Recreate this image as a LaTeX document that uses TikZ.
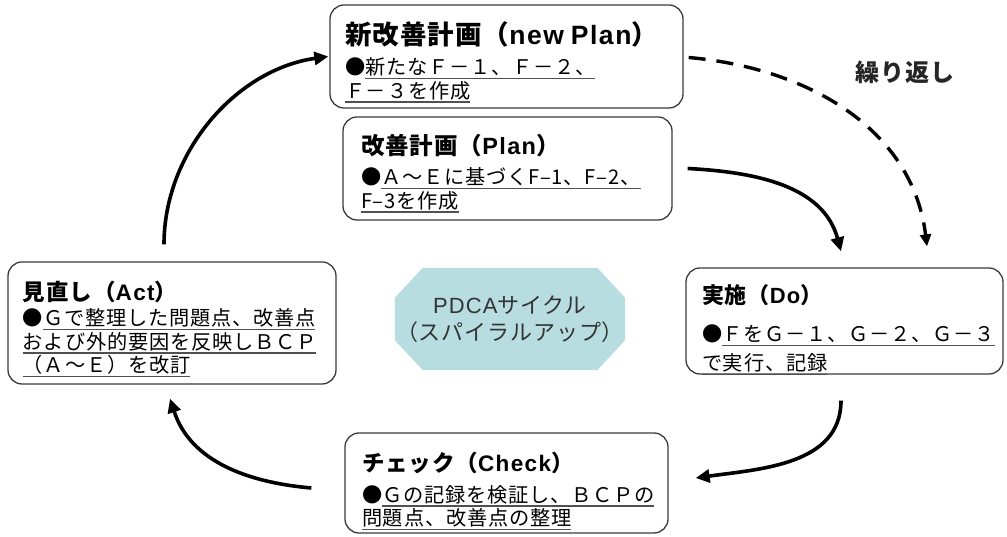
\documentclass[tikz,border=0pt]{standalone}
\usepackage{fontspec}
\setmainfont{Noto Sans CJK JP}[LetterSpace=4]
\newfontfamily\arl{Liberation Sans}
\usetikzlibrary{arrows.meta}
\pgfdeclarelayer{background}
\pgfsetlayers{background,main}
\definecolor{octa}{HTML}{B8DDE1}
\definecolor{boxline}{HTML}{3A3A3A}
\definecolor{ulgray}{HTML}{505050}
\newsavebox\myulbox
\newcommand\ulx[1]{\leavevmode\sbox\myulbox{#1}\rlap{\smash{\color{ulgray}\rule[-4.5pt]{\wd\myulbox}{1.3pt}}}\usebox\myulbox}
\newcommand\ttl[3][33]{{\fontsize{#2}{#2}\selectfont\bfseries\rule{0pt}{#1pt}#3}}
\newcommand\lat[1]{{\arl\bfseries\addfontfeature{LetterSpace=6}#1}}
\tikzset{
  pbox/.style={draw=boxline, line width=1.3pt, rounded corners=14pt, align=left,
    inner ysep=0pt, font=\fontsize{20.2}{23.5}\selectfont, text=black},
  arr/.style={line width=3.6pt, -{Triangle[length=14pt,width=13pt]}},
  dsh/.style={line width=3.4pt, dash pattern=on 17pt off 11pt, -{Triangle[length=12pt,width=11pt]}}
}
\begin{document}
\begin{tikzpicture}[x=1pt,y=1pt]
\useasboundingbox (0,0) rectangle (1007,537);

\node[pbox, minimum width=353pt, minimum height=103pt, inner xsep=15pt, text width=323pt] (np) at (506.5,480.5)
  {\ttl[31]{26.5}{新改善計画（\lat{new Plan}）}\\[7pt]●\ulx{新たなＦ－１、Ｆ－２、}\\\ulx{Ｆ－３を作成}};

\node[pbox, minimum width=329pt, minimum height=103pt, inner xsep=18pt, text width=293pt] (plan) at (507.5,368.5)
  {\ttl[27]{23.5}{改善計画（\lat{Plan}）}\\[7pt]●\ulx{Ａ～Ｅに基づくF–1、F–2、}\\\ulx{F–3を作成}};

\node[pbox, minimum width=328pt, minimum height=122pt, inner xsep=15pt, text width=298pt] (act) at (172,214)
  {\ttl[29]{22.5}{見直し（\lat{Act}）}\\[2pt]●\ulx{Ｇで整理した問題点、改善点}\\\ulx{および外的要因を反映しＢＣＰ}\\\ulx{（Ａ～Ｅ）を改訂}};

\node[pbox, minimum width=317pt, minimum height=106pt, inner xsep=16pt, text width=285pt,
  font=\fontsize{20.2}{29}\selectfont] (do) at (844.5,216)
  {\ttl[34]{22}{実施（\lat{Do}）}\\[9pt]●\ulx{ＦをＧ－１、Ｇ－２、Ｇ－３}\\\ulx{で実行、記録}};

\node[pbox, minimum width=323pt, minimum height=100pt, inner xsep=17pt, text width=289pt] (check) at (506.5,54)
  {\ttl{22.5}{チェック（\lat{Check}）}\\[7pt]●\ulx{Ｇの記録を検証し、ＢＣＰの}\\\ulx{問題点、改善点の整理}};

\node[minimum width=230pt, minimum height=102pt, inner sep=0pt, align=center,
  font=\fontsize{22}{27}\selectfont, text=black!80] (pdca) at (510,218)
  {{\arl\addfontfeature{LetterSpace=5}PDCA}サイクル\\（スパイラルアップ）};
\begin{pgfonlayer}{background}
\fill[octa] ([xshift=28pt]pdca.north west) -- ([xshift=-28pt]pdca.north east)
  -- ([yshift=-30pt]pdca.north east) -- ([yshift=30pt]pdca.south east)
  -- ([xshift=-28pt]pdca.south east) -- ([xshift=28pt]pdca.south west)
  -- ([yshift=30pt]pdca.south west) -- ([yshift=-30pt]pdca.north west) -- cycle;
\end{pgfonlayer}

\node[font=\fontsize{24}{26}\selectfont\bfseries, text=black!85] (rep) at (905,464.5) {繰り返し};

\draw[arr] ([xshift=-8pt,yshift=17pt]act.north) to[out=90,in=188,looseness=0.95] ([xshift=-1pt]np.west);
\draw[dsh] ([xshift=5pt,yshift=-1pt]np.east) to[out=-5,in=97] ([xshift=82.5pt,yshift=21pt]do.north);
\draw[arr] ([xshift=15pt]plan.east) to[out=-3,in=105] ([xshift=-3.5pt,yshift=16pt]do.north);
\draw[arr] ([xshift=-3.5pt,yshift=-26pt]do.south) to[out=-90,in=8] ([xshift=27pt,yshift=5pt]check.east);
\draw[arr] ([xshift=-33pt,yshift=-5pt]check.west) to[out=175,in=-72] ([xshift=-2pt,yshift=-14pt]act.south);
\end{tikzpicture}
\end{document}
